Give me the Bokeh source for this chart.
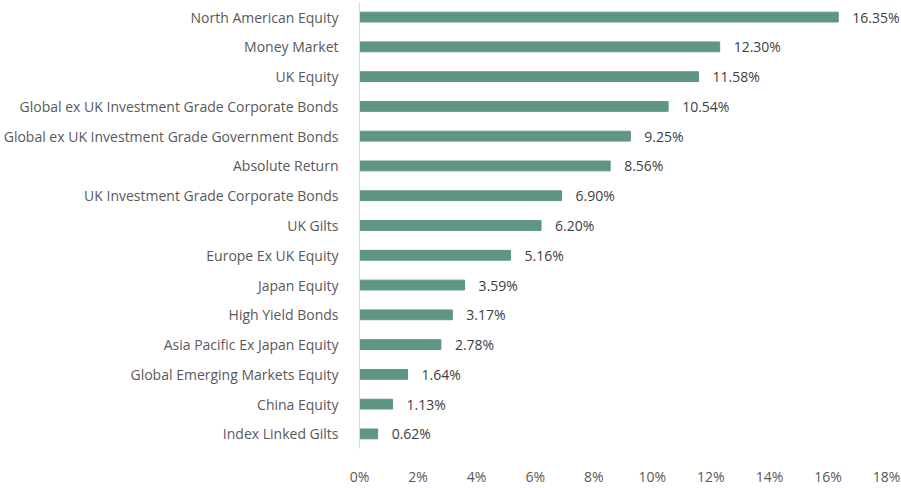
from bokeh.plotting import figure
from bokeh.models import ColumnDataSource, Range1d, FixedTicker, CustomJSTickFormatter
from bokeh.core.properties import value
from bokeh.embed import file_html
from bokeh.resources import INLINE

categories = [
    "North American Equity", "Money Market", "UK Equity",
    "Global ex UK Investment Grade Corporate Bonds",
    "Global ex UK Investment Grade Government Bonds",
    "Absolute Return", "UK Investment Grade Corporate Bonds", "UK Gilts",
    "Europe Ex UK Equity", "Japan Equity", "High Yield Bonds",
    "Asia Pacific Ex Japan Equity", "Global Emerging Markets Equity",
    "China Equity", "Index Linked Gilts",
]
weights = [16.35, 12.30, 11.58, 10.54, 9.25, 8.56, 6.90, 6.20, 5.16, 3.59, 3.17, 2.78, 1.64, 1.13, 0.62]
x_ticks = [0, 2, 4, 6, 8, 10, 12, 14, 16, 18]

FONT = "Open Sans"
n = len(categories)
ypos = [n - 1 - i for i in range(n)]
src = ColumnDataSource(dict(
    y=ypos, w=weights, cat=categories,
    lab=["%.2f%%" % w for w in weights],
))

p = figure(width=901, height=488, output_backend="svg", toolbar_location=None,
           x_range=Range1d(0, 18.51), y_range=Range1d(-0.49, n - 1 + 0.49),
           min_border_left=354, min_border_right=0, min_border_top=2, min_border_bottom=29)
p.outline_line_color = None
p.grid.visible = False

p.hbar(y="y", right="w", left=0, height=0.33, source=src, color="#5f9681")
p.text(x="w", y="y", text="lab", source=src, x_offset=14, text_baseline="middle",
       text_align="left", text_font=value(FONT), text_font_size="14px", text_color="#404040")

xa = p.xaxis[0]
xa.ticker = FixedTicker(ticks=x_ticks)
xa.formatter = CustomJSTickFormatter(code="return tick + '%';")
xa.axis_line_color = None
xa.major_tick_line_color = None
xa.minor_tick_line_color = None
xa.major_label_standoff = 12
xa.major_label_text_font = FONT
xa.major_label_text_font_size = "14px"
xa.major_label_text_color = "#595959"

ya = p.yaxis[0]
ya.ticker = FixedTicker(ticks=ypos)
ya.major_label_overrides = {y: c for y, c in zip(ypos, categories)}
ya.axis_line_color = "#d9d9d9"
ya.axis_line_width = 1
ya.major_tick_line_color = None
ya.minor_tick_line_color = None
ya.major_label_standoff = 15
ya.major_label_text_font = FONT
ya.major_label_text_font_size = "14px"
ya.major_label_text_color = "#595959"

open("out.html", "w").write(file_html(p, INLINE))
